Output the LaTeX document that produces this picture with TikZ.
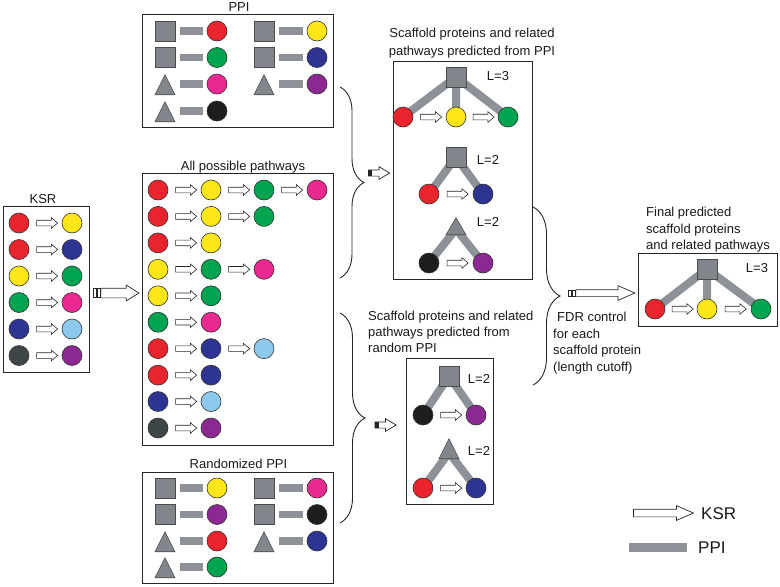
\documentclass[tikz,border=0pt]{standalone}
\usepackage{fontspec}
\setmainfont{Liberation Sans}
\usetikzlibrary{positioning}
\usetikzlibrary{shapes.geometric, shapes.arrows}
\usetikzlibrary{decorations.pathreplacing}
\usetikzlibrary{backgrounds}

\definecolor{cred}{RGB}{234,36,44}
\definecolor{cyel}{RGB}{255,230,25}
\definecolor{cgrn}{RGB}{0,163,80}
\definecolor{cmag}{RGB}{233,40,145}
\definecolor{cdbl}{RGB}{45,52,146}
\definecolor{clbl}{RGB}{140,200,235}
\definecolor{cpur}{RGB}{140,40,145}
\definecolor{cblk}{RGB}{30,28,30}
\definecolor{cdgr}{RGB}{62,70,72}
\definecolor{cgry}{RGB}{128,134,140}
\definecolor{cbar}{RGB}{140,146,152}

\tikzset{
  prot/.style={circle, draw=black!80, line width=0.6pt, inner sep=0pt, minimum size=20pt},
  sq/.style={rectangle, draw=black!70, line width=0.6pt, fill=cgry, inner sep=0pt, minimum size=20pt},
  tri/.style={isosceles triangle, isosceles triangle stretches, shape border rotate=90, draw=black!70, line width=0.6pt, fill=cgry, inner sep=0pt, minimum width=20pt, minimum height=20pt, anchor=apex},
  box/.style={rectangle, draw=black!85, line width=0.8pt, inner sep=0pt},
  title/.style={font=\fontsize{13}{16.5}\selectfont, text=black!90, inner sep=0pt, text height=9.3pt, text depth=0pt},
  note/.style={font=\fontsize{13}{16.5}\selectfont, text=black!90, inner sep=0pt, align=left, anchor=north west},
  legtext/.style={font=\fontsize{17}{20}\selectfont, text=black!90, inner sep=0pt, text height=12.2pt, text depth=0pt, anchor=west},
  ksr/.style={single arrow, draw=black!85, fill=white, line width=0.6pt, inner xsep=0pt, inner ysep=2.5pt, single arrow head extend=2.5pt, single arrow tip angle=80, minimum height=21pt},
  bigarrow/.style={single arrow, draw=black!85, fill=white, line width=0.7pt, inner xsep=0pt},
  stripe/.style={rectangle, draw=black!85, fill=white, line width=0.5pt, inner sep=0pt, minimum width=3pt},
  ppi/.style={draw=cbar, line width=7.5pt, shorten <=15pt, shorten >=4pt},
  bar/.style={draw=cbar, line width=8pt},
  curly/.style={decorate, draw=black!85, line width=0.9pt},
}

\begin{document}
\begin{tikzpicture}[x=1pt, y=-1pt]
  \useasboundingbox (0,0) rectangle (780,587);

  % KSR
  \node[title] (ksrtitle) at (43,199) {KSR};
  \node[box, minimum width=86pt, minimum height=166pt] (ksrbox) at (46,289) {};
  \node[prot, fill=cred] (k1a) at (19,223) {};
  \node[prot, fill=cyel] (k1b) at (72,223) {};
  \node[prot, fill=cred] (k2a) at (19,249.5) {};
  \node[prot, fill=cdbl] (k2b) at (72,249.5) {};
  \node[prot, fill=cyel] (k3a) at (19,276) {};
  \node[prot, fill=cgrn] (k3b) at (72,276) {};
  \node[prot, fill=cgrn] (k4a) at (19,302.5) {};
  \node[prot, fill=cmag] (k4b) at (72,302.5) {};
  \node[prot, fill=cdbl] (k5a) at (19,329) {};
  \node[prot, fill=clbl] (k5b) at (72,329) {};
  \node[prot, fill=cdgr] (k6a) at (19,355.5) {};
  \node[prot, fill=cpur] (k6b) at (72,355.5) {};
  \path (k1a) -- node[ksr] {} (k1b) (k2a) -- node[ksr] {} (k2b) (k3a) -- node[ksr] {} (k3b);
  \path (k4a) -- node[ksr] {} (k4b) (k5a) -- node[ksr] {} (k5b) (k6a) -- node[ksr] {} (k6b);

  \node[bigarrow, inner ysep=4.5pt, single arrow head extend=3pt, single arrow tip angle=64, minimum height=38pt] (toall) at (116,293) {};
  \node[stripe, minimum height=9pt, left=0.5pt of toall.tail] (toallst1) {};
  \node[stripe, minimum height=9pt, left=0.5pt of toallst1] (toallst2) {};

  % PPI
  \node[title] (ppititle) at (239,7) {PPI};
  \node[box, minimum width=191pt, minimum height=113pt] (ppibox) at (237.5,70.5) {};
  \node[sq] (p1s) at (165,31) {};
  \node[prot, fill=cred] (p1c) at (217,31) {};
  \node[sq] (p2s) at (165,57.5) {};
  \node[prot, fill=cgrn] (p2c) at (217,57.5) {};
  \node[tri] (p3s) at (165,74) {};
  \node[prot, fill=cmag] (p3c) at (217,84) {};
  \node[tri] (p4s) at (165,101) {};
  \node[prot, fill=cblk] (p4c) at (217,111) {};
  \node[sq] (p5s) at (264,31) {};
  \node[prot, fill=cyel] (p5c) at (317,31) {};
  \node[sq] (p6s) at (264,57.5) {};
  \node[prot, fill=cdbl] (p6c) at (317,57.5) {};
  \node[tri] (p7s) at (264,74) {};
  \node[prot, fill=cpur] (p7c) at (317,84) {};
  \draw[ppi] (p1s.north |- p1c) -- (p1c);
  \draw[ppi] (p2s.north |- p2c) -- (p2c);
  \draw[ppi] (p3s.north |- p3c) -- (p3c);
  \draw[ppi] (p4s.north |- p4c) -- (p4c);
  \draw[ppi] (p5s.north |- p5c) -- (p5c);
  \draw[ppi] (p6s.north |- p6c) -- (p6c);
  \draw[ppi] (p7s.north |- p7c) -- (p7c);

  % All possible pathways
  \node[title] (alltitle) at (243,166) {All possible pathways};
  \node[box, minimum width=191pt, minimum height=272pt] (allbox) at (237.5,309) {};
  \node[prot, fill=cred] (a1a) at (158,190) {};
  \node[prot, fill=cyel] (a1b) at (211,190) {};
  \node[prot, fill=cgrn] (a1c) at (264,190) {};
  \node[prot, fill=cmag] (a1d) at (317,190) {};
  \node[prot, fill=cred] (a2a) at (158,216.4) {};
  \node[prot, fill=cyel] (a2b) at (211,216.4) {};
  \node[prot, fill=cgrn] (a2c) at (264,216.4) {};
  \node[prot, fill=cred] (a3a) at (158,242.9) {};
  \node[prot, fill=cyel] (a3b) at (211,242.9) {};
  \node[prot, fill=cyel] (a4a) at (158,269.3) {};
  \node[prot, fill=cgrn] (a4b) at (211,269.3) {};
  \node[prot, fill=cmag] (a4c) at (264,269.3) {};
  \node[prot, fill=cyel] (a5a) at (158,295.8) {};
  \node[prot, fill=cgrn] (a5b) at (211,295.8) {};
  \node[prot, fill=cgrn] (a6a) at (158,322.2) {};
  \node[prot, fill=cmag] (a6b) at (211,322.2) {};
  \node[prot, fill=cred] (a7a) at (158,348.6) {};
  \node[prot, fill=cdbl] (a7b) at (211,348.6) {};
  \node[prot, fill=clbl] (a7c) at (264,348.6) {};
  \node[prot, fill=cred] (a8a) at (158,375.1) {};
  \node[prot, fill=cdbl] (a8b) at (211,375.1) {};
  \node[prot, fill=cdbl] (a9a) at (158,401.5) {};
  \node[prot, fill=clbl] (a9b) at (211,401.5) {};
  \node[prot, fill=cdgr] (a10a) at (158,428) {};
  \node[prot, fill=cpur] (a10b) at (211,428) {};
  \path (a1a) -- node[ksr] {} (a1b) -- node[ksr] {} (a1c) -- node[ksr] {} (a1d);
  \path (a2a) -- node[ksr] {} (a2b) -- node[ksr] {} (a2c);
  \path (a3a) -- node[ksr] {} (a3b);
  \path (a4a) -- node[ksr] {} (a4b) -- node[ksr] {} (a4c);
  \path (a5a) -- node[ksr] {} (a5b);
  \path (a6a) -- node[ksr] {} (a6b);
  \path (a7a) -- node[ksr] {} (a7b) -- node[ksr] {} (a7c);
  \path (a8a) -- node[ksr] {} (a8b);
  \path (a9a) -- node[ksr] {} (a9b);
  \path (a10a) -- node[ksr] {} (a10b);

  % Randomized PPI
  \node[title] (rndtitle) at (238.5,464) {Randomized PPI};
  \node[box, minimum width=191pt, minimum height=111pt] (rndbox) at (237.5,527.5) {};
  \node[sq] (q1s) at (165,488) {};
  \node[prot, fill=cyel] (q1c) at (217,488) {};
  \node[sq] (q2s) at (165,514.5) {};
  \node[prot, fill=cpur] (q2c) at (217,514.5) {};
  \node[tri] (q3s) at (165,531) {};
  \node[prot, fill=cred] (q3c) at (217,541) {};
  \node[tri] (q4s) at (165,557) {};
  \node[prot, fill=cgrn] (q4c) at (217,567) {};
  \node[sq] (q5s) at (264,488) {};
  \node[prot, fill=cmag] (q5c) at (317,488) {};
  \node[sq] (q6s) at (264,514.5) {};
  \node[prot, fill=cblk] (q6c) at (317,514.5) {};
  \node[tri] (q7s) at (264,531) {};
  \node[prot, fill=cdbl] (q7c) at (317,541) {};
  \draw[ppi] (q1s.north |- q1c) -- (q1c);
  \draw[ppi] (q2s.north |- q2c) -- (q2c);
  \draw[ppi] (q3s.north |- q3c) -- (q3c);
  \draw[ppi] (q4s.north |- q4c) -- (q4c);
  \draw[ppi] (q5s.north |- q5c) -- (q5c);
  \draw[ppi] (q6s.north |- q6c) -- (q6c);
  \draw[ppi] (q7s.north |- q7c) -- (q7c);

  % braces
  \coordinate (b1s) at (340,87);
  \coordinate (b1e) at (340,278);
  \coordinate (b2s) at (533,207);
  \coordinate (b2e) at (533,385);
  \coordinate (b3s) at (340,313);
  \coordinate (b3e) at (340,523);
  \draw[curly, decoration={brace, amplitude=24pt}] (b1s) -- (b1e);
  \draw[curly, decoration={brace, amplitude=27pt}] (b2s) -- (b2e);
  \draw[curly, decoration={brace, amplitude=25pt}] (b3s) -- (b3e);

  % predicted from PPI
  \node[note, anchor=north, align=center, font=\fontsize{13}{18}\selectfont] (scftitle) at (472,28.3) {Scaffold proteins and related\\pathways predicted from PPI};
  \node[box, minimum width=139pt, minimum height=218pt] (scfbox) at (462.5,170) {};
  \node[bigarrow, inner ysep=2.75pt, single arrow head extend=3.25pt, single arrow tip angle=62, minimum height=21pt] (toscf) at (376.5,173) {};
  \node[fill=black!85, inner sep=0pt, minimum width=4pt, minimum height=5.5pt, anchor=west] (toscftail) at (toscf.tail) {};
  \node[sq] (s1) at (456,77) {};
  \node[prot, fill=cred] (s1a) at (403,117) {};
  \node[prot, fill=cyel] (s1b) at (456,117) {};
  \node[prot, fill=cgrn] (s1c) at (508,117) {};
  \node[title] (s1l) at (498,76) {L=3};
  \path (s1a) -- node[ksr] {} (s1b) -- node[ksr] {} (s1c);
  \node[sq] (s2) at (456,157) {};
  \node[prot, fill=cred] (s2a) at (429,194) {};
  \node[prot, fill=cdbl] (s2b) at (483,194) {};
  \node[title] (s2l) at (488,160) {L=2};
  \path (s2a) -- node[ksr] {} (s2b);
  \node[tri, minimum height=17pt] (s3) at (456,217) {};
  \node[prot, fill=cblk] (s3a) at (429,263) {};
  \node[prot, fill=cpur] (s3b) at (483,263) {};
  \node[title] (s3l) at (488,222) {L=2};
  \path (s3a) -- node[ksr] {} (s3b);

  % predicted from random PPI
  \node[note, font=\fontsize{13}{16}\selectfont] (rsctitle) at (368,311.3) {Scaffold proteins and related\\pathways predicted from\\random PPI};
  \node[box, minimum width=87pt, minimum height=146pt] (rscbox) at (449.5,431) {};
  \node[bigarrow, inner ysep=2.75pt, single arrow head extend=3.25pt, single arrow tip angle=62, minimum height=21pt] (torsc) at (383,425) {};
  \node[fill=black!85, inner sep=0pt, minimum width=4pt, minimum height=5.5pt, anchor=west] (torsctail) at (torsc.tail) {};
  \node[sq] (r1) at (449,376) {};
  \node[prot, fill=cblk] (r1a) at (423,415) {};
  \node[prot, fill=cpur] (r1b) at (476,415) {};
  \node[title] (r1l) at (479,379) {L=2};
  \path (r1a) -- node[ksr] {} (r1b);
  \node[tri] (r2) at (449,438) {};
  \node[prot, fill=cred] (r2a) at (423,488) {};
  \node[prot, fill=cdbl] (r2b) at (476,488) {};
  \node[title] (r2l) at (479,451) {L=2};
  \path (r2a) -- node[ksr] {} (r2b);

  % FDR control
  \node[bigarrow, inner ysep=3pt, single arrow head extend=4pt, single arrow tip angle=47, minimum height=59pt] (fdr) at (601.5,293) {};
  \node[stripe, minimum height=6pt, left=0.5pt of fdr.tail] (fdrst1) {};
  \node[stripe, minimum height=6pt, left=0.5pt of fdrst1] (fdrst2) {};
  \node[note] (fdrtext) at (553,312.3) {\hspace*{4pt}FDR control\\for each\\scaffold protein\\(length cutoff)};

  % final
  \node[note] (fintitle) at (646,207.3) {Final predicted\\scaffold proteins\\and related pathways};
  \node[box, minimum width=139pt, minimum height=73pt] (finbox) at (707.5,289.5) {};
  \node[sq] (f1) at (707,269) {};
  \node[prot, fill=cred] (f1a) at (655,309) {};
  \node[prot, fill=cyel] (f1b) at (707,309) {};
  \node[prot, fill=cgrn] (f1c) at (761,309) {};
  \node[title] (f1l) at (757,268) {L=3};
  \path (f1a) -- node[ksr] {} (f1b) -- node[ksr] {} (f1c);

  % PPI bars of the scaffold panels, under the shapes
  \begin{pgfonlayer}{background}
    \draw[bar] (s1.center) -- (s1a.center) (s1.center) -- (s1b.center) (s1.center) -- (s1c.center);
    \draw[bar] (s2.center) -- (s2a.center) (s2.center) -- (s2b.center);
    \draw[bar] (s3.center) -- (s3a.center) (s3.center) -- (s3b.center);
    \draw[bar] (r1.center) -- (r1a.center) (r1.center) -- (r1b.center);
    \draw[bar] (r2.center) -- (r2a.center) (r2.center) -- (r2b.center);
    \draw[bar] (f1.center) -- (f1a.center) (f1.center) -- (f1b.center) (f1.center) -- (f1c.center);
  \end{pgfonlayer}

  % legend
  \node[bigarrow, inner ysep=3.5pt, single arrow head extend=3.5pt, single arrow tip angle=47, minimum height=60pt] (legksr) at (659,513) {};
  \node[legtext] (legksrlab) at (701,513) {KSR};
  \coordinate (legppia) at (629,547);
  \coordinate (legppib) at (687,547);
  \draw[bar, line width=9pt] (legppia) -- (legppib);
  \node[legtext] (legppilab) at (698,547) {PPI};
\end{tikzpicture}
\end{document}
